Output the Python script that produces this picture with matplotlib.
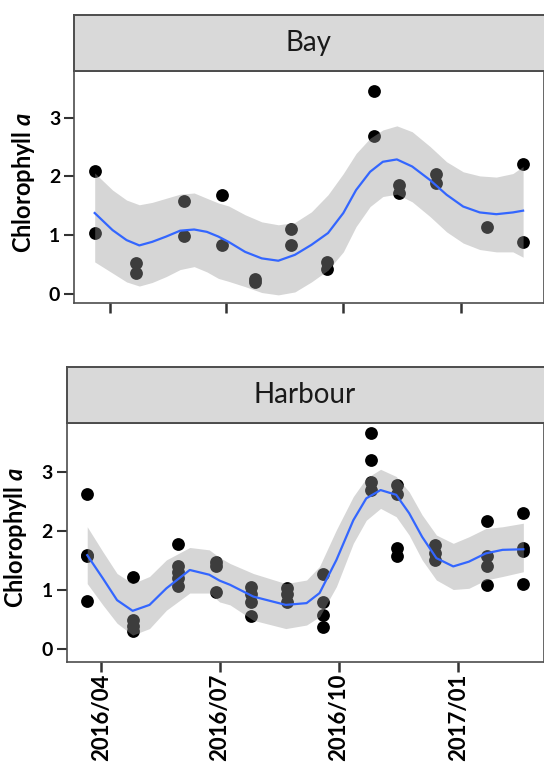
import matplotlib
matplotlib.use("Agg")
import matplotlib.pyplot as plt
import matplotlib.dates as mdates
import pandas as pd

plt.rcParams['font.family'] = ['Lato', 'DejaVu Sans']
plt.rcParams['mathtext.fontset'] = 'custom'
plt.rcParams['mathtext.rm'] = 'Lato:bold'
plt.rcParams['mathtext.it'] = 'Lato:italic:bold'

# sampled chlorophyll a values, Bay
bay_dates = ['2016-03-20', '2016-04-21', '2016-05-29', '2016-06-28', '2016-07-24', '2016-08-21',
             '2016-09-18', '2016-10-25', '2016-11-14', '2016-12-13', '2017-01-22', '2017-02-19']
bay_values = [[2.09, 1.04], [0.53, 0.37], [1.58, 0.99], [1.69, 0.83], [0.26, 0.21], [1.11, 0.83],
              [0.54, 0.43], [3.45, 2.68], [1.86, 1.72], [2.05, 1.89], [1.14], [2.22, 0.88]]

# smooth (loess) curve with confidence band, Bay
bay_fit_dates = ['2016-03-20', '2016-04-03', '2016-04-14', '2016-04-24', '2016-05-04', '2016-05-15',
                 '2016-05-26', '2016-06-06', '2016-06-16', '2016-06-25', '2016-07-03', '2016-07-16',
                 '2016-07-29', '2016-08-11', '2016-08-24', '2016-09-06', '2016-09-19', '2016-10-01',
                 '2016-10-11', '2016-10-22', '2016-11-01', '2016-11-12', '2016-11-24', '2016-12-08',
                 '2016-12-21', '2017-01-03', '2017-01-16', '2017-01-29', '2017-02-11', '2017-02-19']
bay_fit = [1.38, 1.09, 0.92, 0.83, 0.89, 0.98, 1.08, 1.10, 1.06, 0.98, 0.89, 0.72, 0.61, 0.57, 0.67,
           0.84, 1.04, 1.38, 1.77, 2.08, 2.25, 2.29, 2.17, 1.94, 1.69, 1.49, 1.39, 1.36, 1.39, 1.42]
bay_hi = [2.06, 1.77, 1.60, 1.52, 1.56, 1.63, 1.70, 1.72, 1.63, 1.55, 1.50, 1.35, 1.23, 1.18, 1.22,
          1.40, 1.69, 2.05, 2.39, 2.65, 2.79, 2.86, 2.76, 2.51, 2.25, 2.08, 2.01, 1.99, 2.05, 2.17]
bay_lo = [0.55, 0.36, 0.21, 0.14, 0.20, 0.30, 0.42, 0.47, 0.38, 0.27, 0.22, 0.13, 0.03, -0.01, 0.04,
          0.21, 0.41, 0.72, 1.15, 1.49, 1.66, 1.70, 1.57, 1.32, 1.06, 0.87, 0.76, 0.72, 0.72, 0.63]

# Harbour
harbour_dates = ['2016-03-21', '2016-04-25', '2016-05-30', '2016-06-28', '2016-07-25', '2016-08-22',
                 '2016-09-19', '2016-10-26', '2016-11-15', '2016-12-14', '2017-01-23', '2017-02-20']
harbour_values = [[2.62, 1.60, 1.58, 0.82], [1.22, 0.49, 0.40, 0.31], [1.78, 1.40, 1.30, 1.20, 1.07],
                  [1.47, 1.40, 0.97], [1.05, 0.93, 0.80, 0.57], [1.03, 0.93, 0.80],
                  [1.27, 0.80, 0.58, 0.38], [3.65, 3.19, 2.83, 2.69], [2.78, 2.63, 1.71, 1.58],
                  [1.76, 1.62, 1.51], [2.17, 1.58, 1.40, 1.09], [2.31, 1.71, 1.66, 1.10]]

harbour_fit_dates = ['2016-03-21', '2016-04-02', '2016-04-13', '2016-04-25', '2016-05-08', '2016-05-21',
                     '2016-06-08', '2016-06-23', '2016-07-01', '2016-07-09', '2016-07-27', '2016-08-21',
                     '2016-09-06', '2016-09-16', '2016-09-29', '2016-10-12', '2016-10-22', '2016-11-02',
                     '2016-11-14', '2016-11-24', '2016-12-04', '2016-12-15', '2016-12-28', '2017-01-09',
                     '2017-01-22', '2017-02-04', '2017-02-20']
harbour_fit = [1.59, 1.20, 0.83, 0.65, 0.75, 1.03, 1.34, 1.26, 1.16, 1.09, 0.89, 0.75, 0.78, 0.95,
               1.51, 2.18, 2.55, 2.69, 2.61, 2.30, 1.90, 1.54, 1.40, 1.48, 1.62, 1.68, 1.69]
harbour_hi = [2.07, 1.65, 1.28, 1.11, 1.23, 1.51, 1.72, 1.68, 1.55, 1.45, 1.28, 1.11, 1.17, 1.40,
              2.02, 2.58, 2.89, 3.04, 2.92, 2.66, 2.27, 1.93, 1.79, 1.90, 2.04, 2.07, 2.13]
harbour_lo = [1.11, 0.75, 0.44, 0.24, 0.35, 0.66, 0.95, 0.95, 0.80, 0.75, 0.49, 0.35, 0.41, 0.55,
              1.06, 1.79, 2.18, 2.38, 2.24, 1.93, 1.51, 1.17, 1.01, 1.03, 1.17, 1.23, 1.31]

W, H = 544, 762
fig = plt.figure(figsize=(W / 100, H / 100), dpi=100)


def px_axes(left, top, right, bottom):
    return fig.add_axes([left / W, 1 - bottom / H, (right - left) / W, (bottom - top) / H])


apr1 = mdates.date2num(pd.Timestamp('2016-04-01'))

panels = [
    # name, dates, values, fit dates, fit, hi, lo, axes box, apr1 px, px/day, zero px, px/unit,
    # y label right edge px, x labels
    ('Bay', bay_dates, bay_values, bay_fit_dates, bay_fit, bay_hi, bay_lo,
     (74, 71, 543.5, 303), 110, 1.275, 294.3, 58.9, 37, False),
    ('Harbour', harbour_dates, harbour_values, harbour_fit_dates, harbour_fit, harbour_hi, harbour_lo,
     (66.7, 423, 543.5, 661.7), 101.5, 1.298, 649.3, 59.2, 29, True),
]

edge = '#4d4d4d'
for (name, dates, values, fdates, fit, hi, lo, box, apx, ppd, zpx, upx, ylx, xlabels) in panels:
    left, top, right, bottom = box
    ax = px_axes(left, top, right, bottom)
    for d, vals in zip(pd.to_datetime(dates), values):
        ax.scatter([d] * len(vals), vals, s=85, color='black', linewidths=0, zorder=2)
    fd = pd.to_datetime(fdates)
    ax.fill_between(fd, lo, hi, color='#999999', alpha=0.4, linewidth=0, zorder=3)
    ax.plot(fd, fit, color='#3366FF', lw=1.6, zorder=4, solid_joinstyle='round')

    ax.set_xlim(apr1 + (left - apx) / ppd, apr1 + (right - apx) / ppd)
    ax.set_ylim((zpx - bottom) / upx, (zpx - top) / upx)
    ax.set_yticks([0, 1, 2, 3])
    ax.xaxis.set_major_locator(mdates.MonthLocator(bymonth=[1, 4, 7, 10]))
    ax.xaxis.set_major_formatter(mdates.DateFormatter('%Y/%m'))
    for s in ax.spines.values():
        s.set_color(edge)
        s.set_linewidth(1.2)
    ax.tick_params(axis='y', length=7, width=1.5, color='#333333', pad=3, labelsize=14)
    ax.tick_params(axis='x', length=7, width=1.8, color='#333333', pad=1.5, labelsize=16,
                   labelbottom=xlabels, labelrotation=90)
    for lab in ax.get_yticklabels() + ax.get_xticklabels():
        lab.set_fontweight('bold')
    ax.set_ylabel(r'Chlorophyll $\mathit{a}$', fontsize=17, fontweight='bold')
    ax.yaxis.set_label_coords((ylx - left) / (right - left), 0.52)

    strip = px_axes(left, top - 56, 600, top)
    strip.set_facecolor('#D9D9D9')
    strip.set_xticks([])
    strip.set_yticks([])
    for s in strip.spines.values():
        s.set_color(edge)
        s.set_linewidth(1.4)
    strip.text(((left + right) / 2 - left) / (600 - left), 0.5, name, transform=strip.transAxes,
               ha='center', va='center', fontsize=20, color='#1a1a1a')

fig.savefig('out.png', dpi=100)
